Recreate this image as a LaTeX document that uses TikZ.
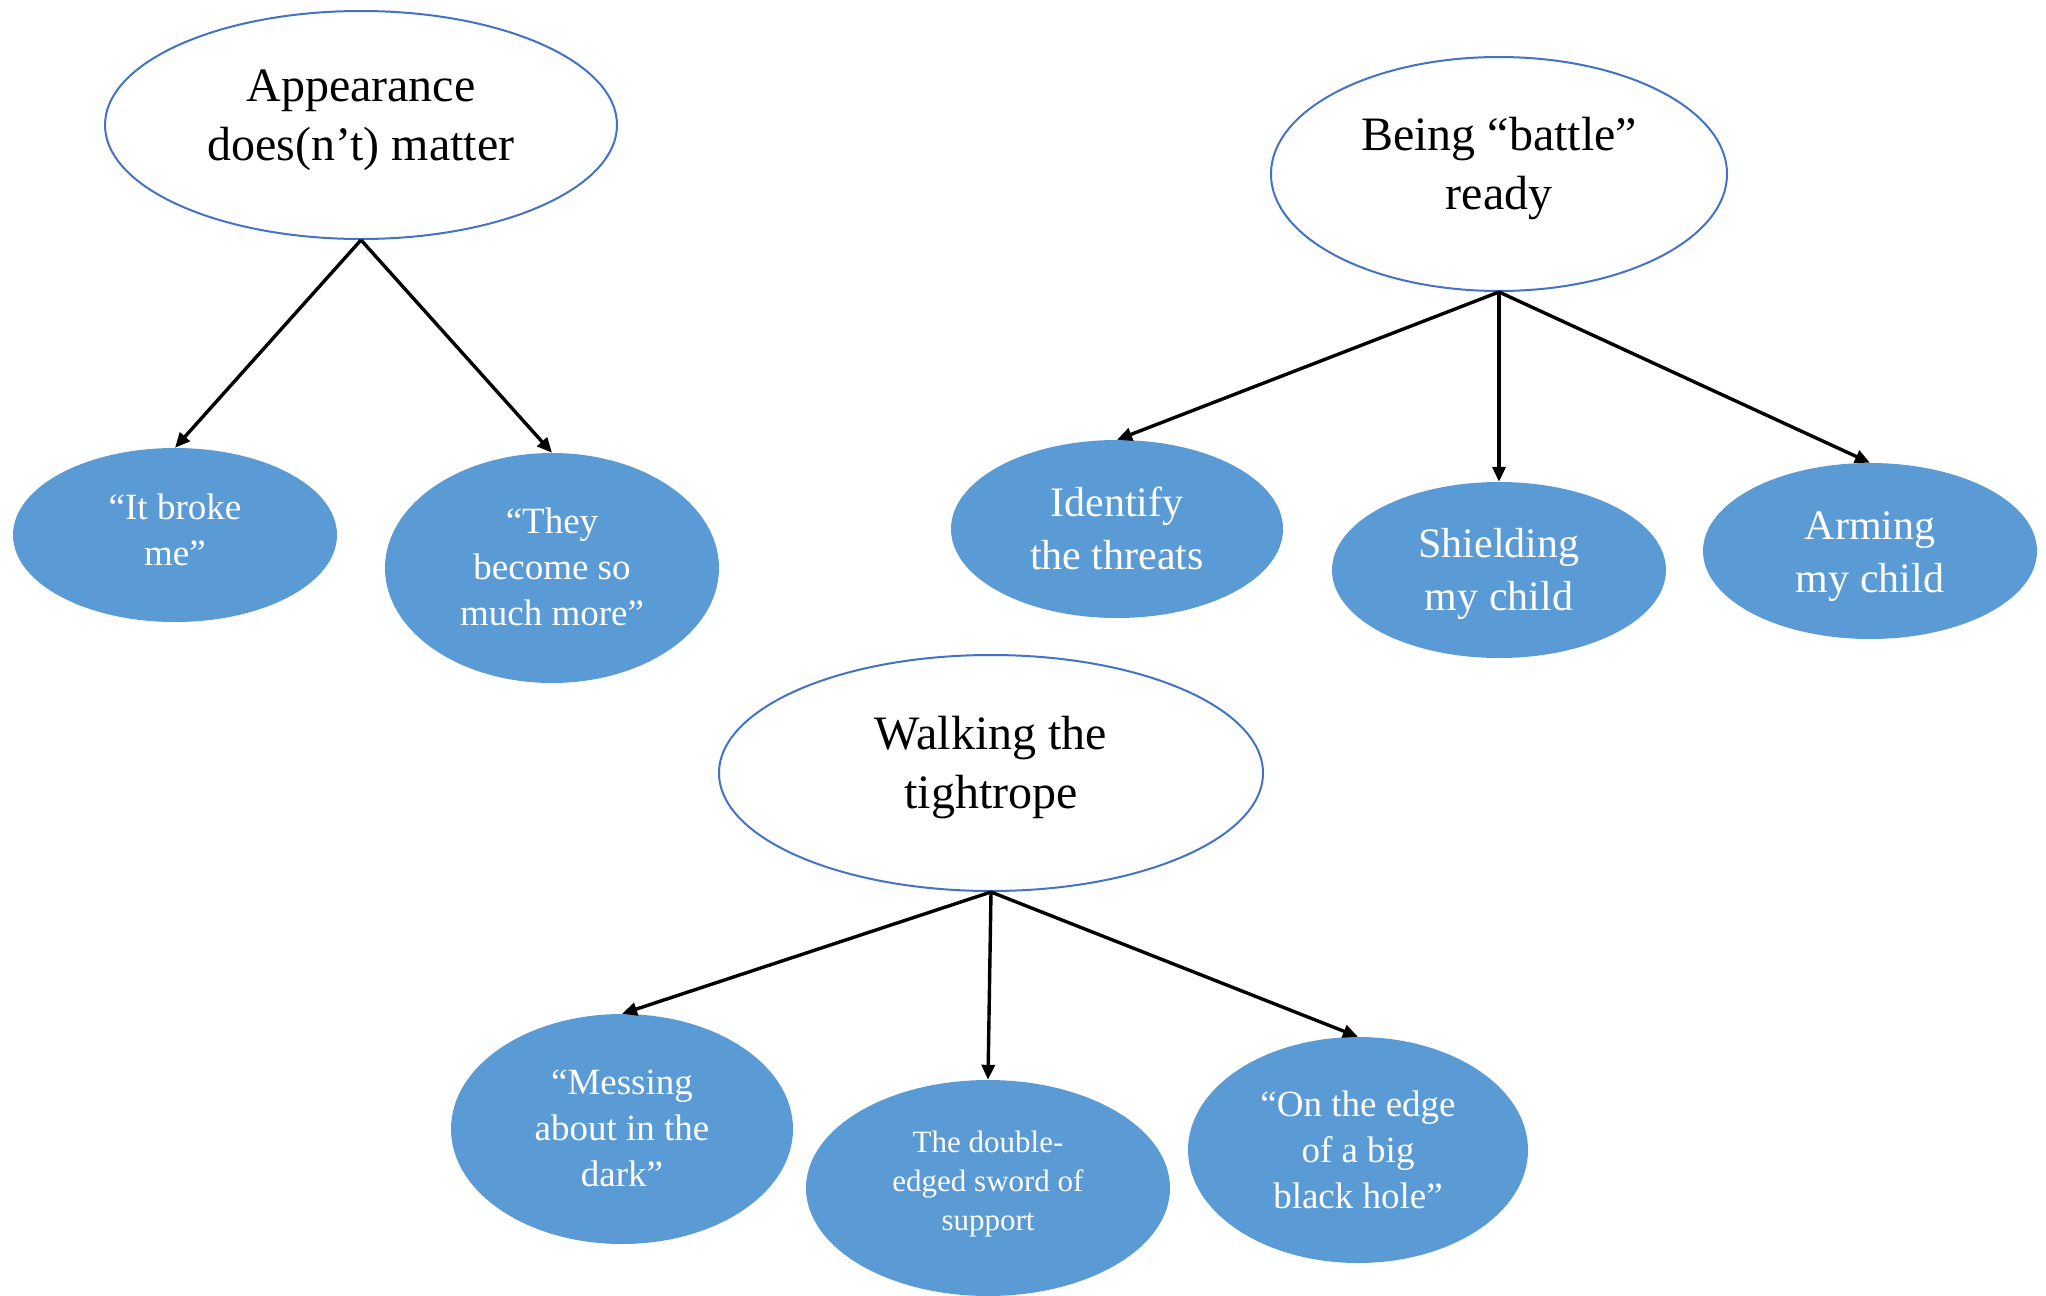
\documentclass[tikz,border=0pt]{standalone}
\usepackage{fontspec}
\setmainfont{Liberation Serif}
\usetikzlibrary{shapes.geometric,arrows.meta}
\definecolor{outlineblue}{HTML}{4472C4}
\definecolor{fillblue}{HTML}{5B9BD5}
\begin{document}
\begin{tikzpicture}[x=1pt,y=-1pt,
  parent/.style={ellipse,draw=outlineblue,line width=2pt,fill=white,inner sep=0pt},
  ptxt/.style={align=center,font=\fontsize{48}{59}\selectfont},
  child/.style={ellipse,fill=fillblue,inner sep=0pt},
  ctxt/.style={align=center,text=white},
  bigtxt/.style={ctxt,font=\fontsize{42}{53}\selectfont},
  midtxt/.style={ctxt,font=\fontsize{37}{46}\selectfont},
  smalltxt/.style={ctxt,font=\fontsize{31}{39}\selectfont},
  conn/.style={line width=3.4pt,-{Triangle[length=15pt,width=13pt]}}]
\fill[white] (0,0) rectangle (2046,1296);
\useasboundingbox (0,0) rectangle (2046,1296);
% parents
\node[parent,minimum width=512,minimum height=228] (p1) at (361,125) {};
\node[parent,minimum width=456,minimum height=234] (p2) at (1499,174) {};
\node[parent,minimum width=544,minimum height=236] (p3) at (991,773) {};
\node[ptxt] (t1) at (361,120) {Appearance\\does(n’t) matter};
\node[ptxt] (t2) at (1499,169) {Being “battle”\\ready};
\node[ptxt] (t3) at (991,768) {Walking the\\tightrope};
% children
\node[child,minimum width=324,minimum height=174] (c1) at (175,535) {};
\node[child,minimum width=334,minimum height=230] (c2) at (552,568) {};
\node[child,minimum width=332,minimum height=178] (c3) at (1117,529) {};
\node[child,minimum width=334,minimum height=176] (c4) at (1499,570) {};
\node[child,minimum width=334,minimum height=176] (c5) at (1870,551) {};
\node[child,minimum width=342,minimum height=230] (c6) at (622,1129) {};
\node[child,minimum width=364,minimum height=216] (c7) at (988,1188) {};
\node[child,minimum width=340,minimum height=226] (c8) at (1358,1150) {};
\node[midtxt] (d1) at (175,530) {“It broke\\me”};
\node[midtxt] (d2) at (552,567) {“They\\become so\\much more”};
\node[bigtxt] (d3) at (1117,528) {Identify\\the threats};
\node[bigtxt] (d4) at (1499,574) {Shielding\\my child};
\node[bigtxt] (d5) at (1870,557) {Arming\\my child};
\node[midtxt] (d6) at (622,1128) {“Messing\\about in the\\dark”};
\node[smalltxt] (d7) at (988,1184) {The double-\\edged sword of\\support};
\node[midtxt] (d8) at (1358,1150) {“On the edge\\of a big\\black hole”};
% connectors
\draw[conn] (p1.south) -- (c1.north);
\draw[conn] (p1.south) -- (c2.north);
\draw[conn] (p2.south) -- (c3.north);
\draw[conn] (p2.south) -- (c4.north);
\draw[conn] (p2.south) -- (c5.north);
\draw[conn] (p3.south) -- (c6.north);
\draw[conn] (p3.south) -- (c7.north);
\draw[conn] (p3.south) -- (c8.north);
\end{tikzpicture}
\end{document}
